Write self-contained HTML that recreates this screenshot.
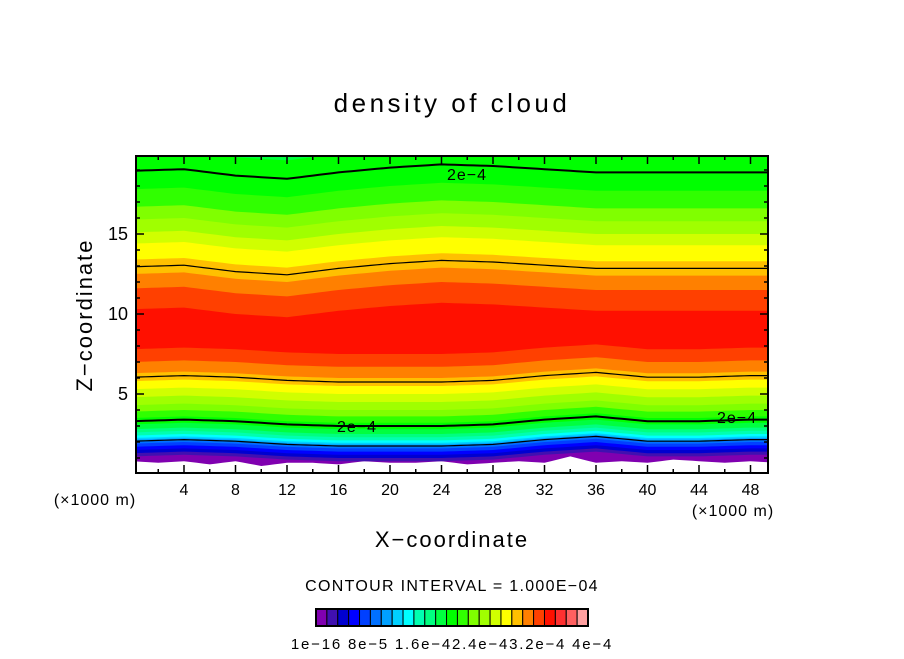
<!DOCTYPE html>
<html><head><meta charset="utf-8"><style>
body{margin:0;background:#fff;}
svg text{font-family:"Liberation Sans","DejaVu Sans",sans-serif;fill:#000;}
</style></head><body>
<svg id="chart" width="904" height="654" viewBox="0 0 904 654">
<text x="452" y="112" text-anchor="middle" font-size="26" letter-spacing="3.5">density of cloud</text>
<defs><clipPath id="pc"><rect x="136" y="156" width="632" height="317"/></clipPath></defs>
<g id="bands" clip-path="url(#pc)"></g>
<g id="lines" clip-path="url(#pc)"></g>
<g id="axes"></g>
<text x="95" y="505" text-anchor="middle" font-size="16" letter-spacing="1">(×1000 m)</text>
<text x="733" y="516" text-anchor="middle" font-size="16" letter-spacing="1">(×1000 m)</text>
<text x="452" y="547" text-anchor="middle" font-size="22" letter-spacing="2">X−coordinate</text>
<text transform="translate(92,315) rotate(-90)" text-anchor="middle" font-size="22" letter-spacing="2">Z−coordinate</text>
<text x="452" y="591" text-anchor="middle" font-size="16" letter-spacing="1.3">CONTOUR INTERVAL = 1.000E−04</text>
<g id="cbar"></g>
<text x="452" y="649" text-anchor="middle" font-size="15" letter-spacing="1.8">1e−16 8e−5 1.6e−42.4e−43.2e−4 4e−4</text>
</svg>
<script>
const colors=["#8000b0","#4010b0","#0000d0","#0000ff","#0040ff","#0070ff","#00a0ff","#00d0ff","#00ffff","#00ffb0","#00ff80","#00ff40","#00ff00","#30ff00","#80ff00","#a0ff00","#d0ff00","#ffff00","#ffc000","#ff8000","#ff4000","#ff1000","#ff3030","#ff6060","#ffa0a0"];
const xNodes=[0,4,8,12,16,20,24,28,32,36,40,44,48,50];
const lowerShift=[0,0.1,0,-0.2,-0.3,-0.3,-0.3,-0.2,0.1,0.3,0,0,0.1,0.1];
const upperShift=[0.1,0.2,-0.2,-0.4,0,0.3,0.5,0.4,0.2,0,0,0,0,0];
const lowerLevels=[0.9,1.1,1.3,1.5,1.7,1.9,2.05,2.15,2.25,2.4,2.6,2.8,3.1,3.5,3.9,4.3,4.8,5.3,5.8,6.3,7.0,7.8];
const upperLevels=[30,30,30,30,30,30,30,30,30,30,30,24,20.0,17.7,16.6,15.8,15.0,14.3,13.3,12.4,11.5,10.2];
const bottomX=[0,2,4,6,8,10,12,14,16,18,20,22,24,26,28,30,32,34,36,38,40,42,44,46,48,50];
const bottomZ=[0.8,0.7,0.8,0.6,0.8,0.5,0.7,0.7,0.6,0.8,0.7,0.7,0.8,0.6,0.7,0.8,0.7,1.1,0.7,0.8,0.7,0.9,0.8,0.7,0.8,0.7];
const contourLevels=[6,12.5,18.5];
const yTicks=[5,10,15];
const xTicks=[4,8,12,16,20,24,28,32,36,40,44,48];
const NS="http://www.w3.org/2000/svg";
const X0=136,X1=768,Y0=156,Y1=473;
const sx=x=>132.5+x*(184-132.5)/4;
const sz=z=>474-z*16;
function interp(xs,ys,x){if(x<=xs[0])return ys[0];for(let i=1;i<xs.length;i++){if(x<=xs[i]){const t=(x-xs[i-1])/(xs[i]-xs[i-1]);return ys[i-1]+t*(ys[i]-ys[i-1]);}}return ys[ys.length-1];}
function lowZ(k,x){if(k===0)return interp(bottomX,bottomZ,x);return lowerLevels[k]+interp(xNodes,lowerShift,x);}
function upZ(k,x){return upperLevels[k]+interp(xNodes,upperShift,x);}
const bands=document.getElementById('bands');
const xs=[];for(let x=0;x<=50.01;x+=0.5)xs.push(x);
for(let k=0;k<lowerLevels.length;k++){
  let pts=xs.map(x=>sx(x).toFixed(1)+","+sz(lowZ(k,x)).toFixed(1));
  let up=xs.slice().reverse().map(x=>sx(x).toFixed(1)+","+Math.max(sz(upZ(k,x)),Y0-10).toFixed(1));
  const p=document.createElementNS(NS,'polygon');
  p.setAttribute('points',pts.concat(up).join(' '));
  p.setAttribute('fill',colors[k]);
  
  
  bands.appendChild(p);
}
const lines=document.getElementById('lines');
function pathFor(fn){return xs.map((x,i)=>(i?'L':'M')+sx(x).toFixed(1)+','+sz(fn(x)).toFixed(1)).join('');}
function lvl(arr,c){const i=Math.floor(c),t=c-i;return arr[i]+(arr[i+1]-arr[i])*t;}
contourLevels.forEach((c,i)=>{
  const w=(i===1)?2:1.2;
  [[lowerLevels,lowerShift],[upperLevels,upperShift]].forEach(([L,S],j)=>{
    const base=lvl(L,c); if(base>20)return;
    const pth=document.createElementNS(NS,'path');
    pth.setAttribute('d',pathFor(x=>base+interp(xNodes,S,x)));
    pth.setAttribute('fill','none');pth.setAttribute('stroke','#000');pth.setAttribute('stroke-width',w);
    
    
    lines.appendChild(pth);
  });
});
[[467,180],[357,432],[737,423]].forEach(([x,y])=>{
  const t=document.createElementNS(NS,'text');
  t.setAttribute('x',x);t.setAttribute('y',y);t.setAttribute('text-anchor','middle');t.setAttribute('font-size','16');t.setAttribute('letter-spacing','1');
  t.textContent='2e−4';
  
  
  lines.appendChild(t);
});
const axes=document.getElementById('axes');
function ln(x1,y1,x2,y2,w){const l=document.createElementNS(NS,'line');l.setAttribute('x1',x1);l.setAttribute('y1',y1);l.setAttribute('x2',x2);l.setAttribute('y2',y2);l.setAttribute('stroke','#000');l.setAttribute('stroke-width',w||1.5);axes.appendChild(l);}
const fr=document.createElementNS(NS,'rect');
fr.setAttribute('x',X0);fr.setAttribute('y',Y0);fr.setAttribute('width',X1-X0);fr.setAttribute('height',Y1-Y0);
fr.setAttribute('fill','none');fr.setAttribute('stroke','#000');fr.setAttribute('stroke-width','2');


axes.appendChild(fr);
for(let x=2;x<=49;x+=2){const px=sx(x),L=(x%4===0)?8:4;ln(px,Y1,px,Y1-L);ln(px,Y0,px,Y0+L);}
for(let z=1;z<=19;z++){const py=sz(z),L=(z%5===0)?8:4;ln(X0,py,X0+L,py);ln(X1,py,X1-L,py);}
xTicks.forEach(v=>{const t=document.createElementNS(NS,'text');t.setAttribute('x',sx(v));t.setAttribute('y',495);t.setAttribute('text-anchor','middle');t.setAttribute('font-size','16');t.textContent=v;


axes.appendChild(t);});
yTicks.forEach(v=>{const t=document.createElementNS(NS,'text');t.setAttribute('x',128);t.setAttribute('y',sz(v)+6);t.setAttribute('text-anchor','end');t.setAttribute('font-size','18');t.textContent=v;


axes.appendChild(t);});
const cb=document.getElementById('cbar');
const cw=272/colors.length;
colors.forEach((c,i)=>{const r=document.createElementNS(NS,'rect');r.setAttribute('x',316+i*cw);r.setAttribute('y',609);r.setAttribute('width',cw);r.setAttribute('height',17);r.setAttribute('fill',c);r.setAttribute('stroke','#000');r.setAttribute('stroke-width','1');


cb.appendChild(r);});
const ob=document.createElementNS(NS,'rect');ob.setAttribute('x',316);ob.setAttribute('y',609);ob.setAttribute('width',272);ob.setAttribute('height',17);ob.setAttribute('fill','none');ob.setAttribute('stroke','#000');ob.setAttribute('stroke-width','2');cb.appendChild(ob);
</script>
</body></html>
